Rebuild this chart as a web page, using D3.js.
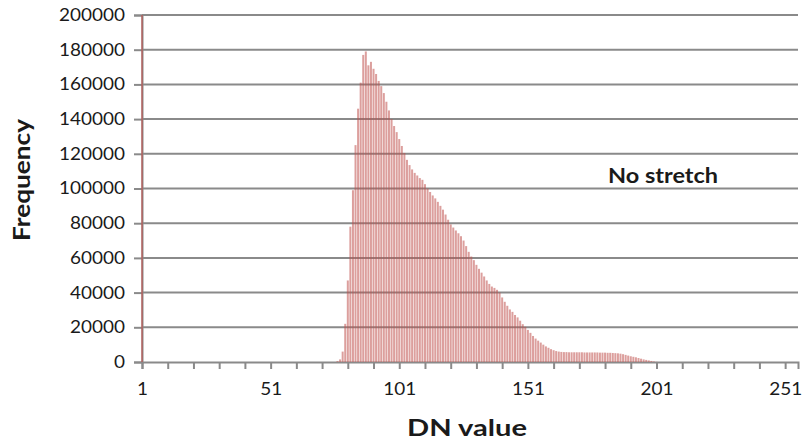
<!DOCTYPE html>
<html>
<head>
<meta charset="utf-8">
<script src="https://cdn.jsdelivr.net/npm/d3@7"></script>
<style>
  html, body { margin: 0; padding: 0; background: #fff; }
  svg { display: block; }
  text { font-family: Lato, "Open Sans", "Liberation Sans", sans-serif; fill: #1a1a1a; }
</style>
</head>
<body>
<svg id="chart" width="808" height="442"></svg>
<script>
// ---- data ----
const dnValues = [1,
  77, 78, 79, 80, 81, 82, 83, 84, 85, 86, 87, 88, 89, 90,
  91, 92, 93, 94, 95, 96, 97, 98, 99, 100, 101, 102, 103, 104, 105,
  106, 107, 108, 109, 110, 111, 112, 113, 114, 115, 116, 117, 118, 119, 120,
  121, 122, 123, 124, 125, 126, 127, 128, 129, 130, 131, 132, 133, 134, 135,
  136, 137, 138, 139, 140, 141, 142, 143, 144, 145, 146, 147, 148, 149, 150,
  151, 152, 153, 154, 155, 156, 157, 158, 159, 160, 161, 162, 163, 164, 165,
  166, 167, 168, 169, 170, 171, 172, 173, 174, 175, 176, 177, 178, 179, 180,
  181, 182, 183, 184, 185, 186, 187, 188, 189, 190, 191, 192, 193, 194, 195,
  196, 197, 198, 199, 200, 201];
const frequencies = [250000,
  500, 1500, 6000, 22000, 47000, 78000, 99000, 125000, 146000, 161000, 177000, 179000, 171000, 173000,
  169000, 166000, 162000, 159000, 155000, 150000, 145000, 140000, 136000, 132500, 128500, 124500, 120500, 116500, 113500,
  111000, 109000, 107500, 106000, 105000, 102500, 100000, 98000, 96000, 94300, 92300, 90000, 87800, 85000, 82000,
  79300, 77500, 75800, 74200, 72500, 70000, 66800, 63500, 60800, 58700, 56000, 53700, 51500, 49300, 47000,
  45000, 43500, 42700, 41600, 40000, 37200, 34700, 32400, 30300, 28900, 27100, 25700, 23800, 21800, 20300,
  18500, 16800, 15000, 13500, 12300, 11200, 10000, 9000, 8200, 7400, 6800, 6300, 6000, 5800, 5700,
  5700, 5600, 5600, 5600, 5600, 5600, 5600, 5500, 5500, 5500, 5500, 5500, 5500, 5400, 5400,
  5400, 5300, 5300, 5200, 5100, 5000, 4800, 4500, 4100, 3700, 3300, 3000, 2700, 2300, 1900,
  1500, 1200, 900, 600, 300, 100];
const dnDomain = [1, 256];
const xTickLabels = [1, 51, 101, 151, 201, 251];
const xMinorTicks = [1, 11, 21, 31, 41, 51, 61, 71, 81, 91, 101, 111, 121, 131, 141, 151, 161, 171, 181, 191, 201, 211, 221, 231, 241, 251];
const yTicks = [0, 20000, 40000, 60000, 80000, 100000, 120000, 140000, 160000, 180000, 200000];
const yDomain = [0, 200000];
const xTitle = "DN value";
const yTitle = "Frequency";
const annotation = "No stretch";

// ---- layout ----
const svg = d3.select("#chart");
const L = 142, R = 798, T = 15, B = 362;
const x = d3.scaleLinear().domain(dnDomain).range([L, R]);
const y = d3.scaleLinear().domain(yDomain).range([B, T]);
const gridColor = "#8a8a8a";

// stretch text horizontally to a target width while keeping its font-size (height)
function stretchTo(sel, targetWidth) {
  sel.attr("textLength", targetWidth).attr("lengthAdjust", "spacingAndGlyphs");
}

// gridlines
svg.append("g").selectAll("line").data(yTicks.slice(1)).join("line")
  .attr("x1", L).attr("x2", R)
  .attr("y1", d => y(d)).attr("y2", d => y(d))
  .attr("stroke", gridColor).attr("stroke-width", 2);

// axes
const tickFs = 17;
const yAxis = d3.axisLeft(y).tickValues(yTicks).tickSize(8).tickPadding(9).tickFormat(d3.format("d"));
const gy = svg.append("g").attr("transform", `translate(${L},0)`).call(yAxis);
gy.select(".domain").attr("stroke", gridColor).attr("stroke-width", 2);
gy.selectAll(".tick line").attr("stroke", gridColor).attr("stroke-width", 2);
gy.selectAll(".tick text").attr("font-size", tickFs).attr("fill", "#1a1a1a").style("font-family", "Lato, 'Open Sans', sans-serif");

const xAxis = d3.axisBottom(x).tickValues(xMinorTicks).tickSize(7).tickPadding(14)
  .tickFormat(d => xTickLabels.includes(d) ? String(d) : "");
const gx = svg.append("g").attr("transform", `translate(0,${B})`).call(xAxis);
gx.select(".domain").attr("stroke", gridColor).attr("stroke-width", 2);
gx.selectAll(".tick line").attr("stroke", gridColor).attr("stroke-width", 2);
gx.selectAll(".tick text").attr("font-size", tickFs).attr("fill", "#1a1a1a").style("font-family", "Lato, 'Open Sans', sans-serif");

// widen digits so "200000" spans ~66px (reference glyphs are wide)
const topLabel = gy.selectAll(".tick text").filter(d => d === 200000);
const factor = 66 / topLabel.node().getComputedTextLength();
svg.selectAll(".tick text").each(function () {
  const t = d3.select(this);
  if (!t.text()) return;
  const w = this.getComputedTextLength();
  stretchTo(t, w * factor);
});

// bars
svg.append("defs").append("clipPath").attr("id", "plotclip")
  .append("rect").attr("x", 0).attr("y", T).attr("width", 808).attr("height", B - T);
const barW = 2.0;
svg.append("g").attr("clip-path", "url(#plotclip)")
  .selectAll("rect").data(dnValues.map((d, i) => ({dn: d, f: frequencies[i]}))).join("rect")
  .attr("x", d => x(d.dn) - barW / 2)
  .attr("width", barW)
  .attr("y", d => y(d.f))
  .attr("height", d => B - y(d.f))
  .attr("fill", "#c0504d").attr("fill-opacity", 0.55);

// titles
const yt = svg.append("text").attr("font-size", 22).attr("font-weight", "bold")
  .attr("text-anchor", "middle")
  .attr("transform", "translate(30,180) rotate(-90)").text(yTitle);
stretchTo(yt, 122);
const xt = svg.append("text").attr("font-size", 22).attr("font-weight", "bold")
  .attr("text-anchor", "middle").attr("x", 467).attr("y", 436).text(xTitle);
stretchTo(xt, 120);
const an = svg.append("text").attr("font-size", 21).attr("font-weight", "bold")
  .attr("x", 608).attr("y", 183).text(annotation);
stretchTo(an, 110);
</script>
</body>
</html>
